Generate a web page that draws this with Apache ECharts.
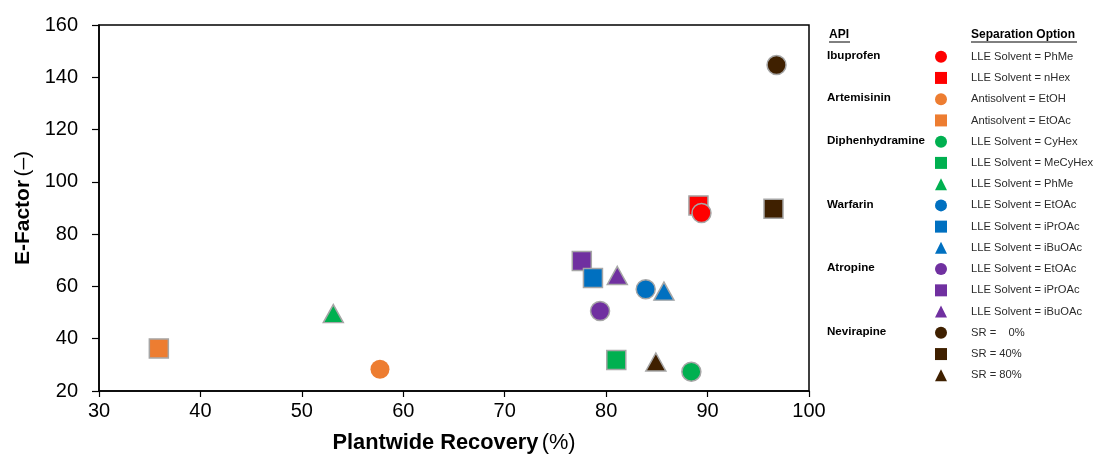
<!DOCTYPE html>
<html>
<head>
<meta charset="utf-8">
<script src="https://cdn.jsdelivr.net/npm/echarts@6/dist/echarts.min.js"></script>
<style>
  html, body { margin: 0; padding: 0; background: #fff; }
  #chart { width: 1096px; height: 459px; }
</style>
</head>
<body>
<div id="chart"></div>
<script>
// API for each separation option (one scatter series per option)
const apiNames = [
  'Ibuprofen', 'Ibuprofen',
  'Artemisinin', 'Artemisinin',
  'Diphenhydramine', 'Diphenhydramine', 'Diphenhydramine',
  'Warfarin', 'Warfarin', 'Warfarin',
  'Atropine', 'Atropine', 'Atropine',
  'Nevirapine', 'Nevirapine', 'Nevirapine'
];
const separationOptions = [
  'LLE Solvent = PhMe', 'LLE Solvent = nHex',
  'Antisolvent = EtOH', 'Antisolvent = EtOAc',
  'LLE Solvent = CyHex', 'LLE Solvent = MeCyHex', 'LLE Solvent = PhMe',
  'LLE Solvent = EtOAc', 'LLE Solvent = iPrOAc', 'LLE Solvent = iBuOAc',
  'LLE Solvent = EtOAc', 'LLE Solvent = iPrOAc', 'LLE Solvent = iBuOAc',
  'SR =    0%', 'SR = 40%', 'SR = 80%'
];
// Plantwide recovery (%)
const recovery = [
  89.4, 89.1,
  57.7, 35.9,
  88.4, 81.0, 53.1,
  83.9, 78.7, 85.7,
  79.4, 77.6, 81.1,
  96.8, 96.5, 84.9
];
// E-Factor (–)
const eFactor = [
  88.1, 91.0,
  28.3, 36.3,
  27.4, 31.9, 49.6,
  58.9, 63.2, 58.2,
  50.6, 69.7, 64.2,
  144.7, 89.7, 31.1
];
const xTicks = { min: 30, max: 100, interval: 10 };
const yTicks = { min: 20, max: 160, interval: 20 };

// marker styling
const apiColors = {
  Ibuprofen: '#ff0000',
  Artemisinin: '#ed7d31',
  Diphenhydramine: '#00b050',
  Warfarin: '#0070c0',
  Atropine: '#7030a0',
  Nevirapine: '#3f2000'
};
const symbols = [
  'circle', 'rect',
  'circle', 'rect',
  'circle', 'rect', 'triangle',
  'circle', 'rect', 'triangle',
  'circle', 'rect', 'triangle',
  'circle', 'rect', 'triangle'
];
const symbolSizes = { circle: 19, rect: 19, triangle: [20, 18] };
const seriesZ = [4, 2, 2, 2, 2, 2, 2, 3, 3, 3, 2, 2, 2, 2, 2, 2];
const borderWidths = [1.5, 1.5, 0, 1.5, 1.5, 1.5, 1.5, 1.5, 1.5, 1.5, 1.5, 1.5, 1.5, 1.5, 1.5, 1.5];

const FONT = '"Liberation Sans", Arial, sans-serif';

// legend row geometry
const rowTop = 56.7;
const rowStep = 21.24;
const legendIcon = 12;

const seriesNames = apiNames.map((a, i) => a + '|' + separationOptions[i]);

const series = seriesNames.map((name, i) => ({
  type: 'scatter',
  name: name,
  z: seriesZ[i],
  symbol: symbols[i],
  symbolSize: symbolSizes[symbols[i]],
  itemStyle: {
    color: apiColors[apiNames[i]],
    borderColor: '#a6a6a6',
    borderWidth: borderWidths[i],
    opacity: 1
  },
  emphasis: { disabled: true },
  data: [[recovery[i], eFactor[i]]]
}));

// API group labels, placed on the first legend row of each API
const apiLabels = [];
apiNames.forEach((a, i) => {
  if (i === 0 || apiNames[i - 1] !== a) {
    apiLabels.push({
      type: 'text',
      left: 827,
      top: rowTop + rowStep * i - 7,
      style: { text: a, font: 'bold 11.6px ' + FONT, fill: '#000' }
    });
  }
});

const chart = echarts.init(document.getElementById('chart'), null, { renderer: 'canvas' });
chart.setOption({
  animation: false,
  backgroundColor: '#fff',
  grid: {
    left: 99, right: 287, top: 25, bottom: 67,
    containLabel: false,
    show: true, borderColor: '#000', borderWidth: 1.5, backgroundColor: 'transparent'
  },
  xAxis: {
    type: 'value',
    min: xTicks.min, max: xTicks.max, interval: xTicks.interval,
    name: '{b|Plantwide Recovery} {r|(%)}',
    nameLocation: 'middle',
    nameGap: 41,
    nameTextStyle: {
      rich: {
        b: { fontFamily: FONT, fontWeight: 'bold', fontSize: 21.8, color: '#000' },
        r: { fontFamily: FONT, fontSize: 21.8, color: '#000' }
      }
    },
    axisLine: { show: true, onZero: false, lineStyle: { color: '#000', width: 1.5 } },
    axisTick: { show: true, inside: false, length: 6, lineStyle: { color: '#000', width: 1.2 } },
    axisLabel: { fontFamily: FONT, fontSize: 20, color: '#000', margin: 10 },
    splitLine: { show: false }
  },
  yAxis: {
    type: 'value',
    min: yTicks.min, max: yTicks.max, interval: yTicks.interval,
    name: '{b|E-Factor} {r|(–)}',
    nameLocation: 'middle',
    nameGap: 63,
    nameTextStyle: {
      rich: {
        b: { fontFamily: FONT, fontWeight: 'bold', fontSize: 21, color: '#000' },
        r: { fontFamily: FONT, fontSize: 21, color: '#000' }
      }
    },
    axisLine: { show: true, onZero: false, lineStyle: { color: '#000', width: 1.5 } },
    axisTick: { show: true, inside: false, length: 7, lineStyle: { color: '#000', width: 1.2 } },
    axisLabel: { fontFamily: FONT, fontSize: 20, color: '#000', margin: 21 },
    splitLine: { show: false }
  },
  legend: {
    orient: 'vertical',
    left: 935,
    top: rowTop - legendIcon / 2,
    padding: 0,
    itemWidth: legendIcon,
    itemHeight: legendIcon,
    itemGap: rowStep - legendIcon,
    selectedMode: false,
    itemStyle: { borderWidth: 0 },
    textStyle: { fontFamily: FONT, fontSize: 11.2, color: '#2b2b2b', lineHeight: 12, padding: [0, 0, 0, 19] },
    formatter: name => name.split('|')[1],
    data: seriesNames.map((n, i) => ({ name: n, icon: symbols[i] }))
  },
  graphic: [
    { type: 'text', left: 829, top: 29, style: { text: 'API', font: 'bold 12px ' + FONT, fill: '#000' } },
    { type: 'line', shape: { x1: 829, y1: 42, x2: 850, y2: 42 }, style: { stroke: '#000', lineWidth: 1 } },
    { type: 'text', left: 971, top: 29, style: { text: 'Separation Option', font: 'bold 12px ' + FONT, fill: '#000' } },
    { type: 'line', shape: { x1: 971, y1: 42, x2: 1077, y2: 42 }, style: { stroke: '#000', lineWidth: 1 } }
  ].concat(apiLabels),
  series: series
});
</script>
</body>
</html>
